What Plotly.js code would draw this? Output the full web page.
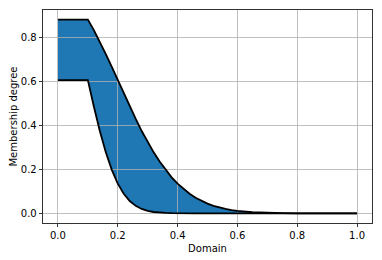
<!DOCTYPE html>
<html>
<head>
<meta charset="utf-8">
<script src="https://cdn.plot.ly/plotly-3.0.1.min.js"></script>
<style>html,body{margin:0;padding:0;background:#fff;}#chart{width:382px;height:260px;}</style>
</head>
<body>
<div id="chart"></div>
<script>
// Domain sample points
const domain = [0,0.02,0.04,0.06,0.08,0.10,0.12,0.14,0.16,0.18,0.20,0.22,0.24,0.26,0.28,0.30,
  0.32,0.34,0.36,0.38,0.40,0.42,0.44,0.46,0.48,0.50,0.52,0.54,0.56,0.58,0.60,0.65,0.70,0.75,0.80,0.90,1.00];
// Upper membership function
const upperMF = [0.883,0.883,0.883,0.883,0.883,0.883,0.835,0.783,0.726,0.667,0.607,0.546,0.487,0.430,0.375,0.325,
  0.278,0.236,0.198,0.164,0.135,0.110,0.089,0.071,0.056,0.044,0.034,0.026,0.020,0.015,0.011,0.005,0.002,0.001,0.000,0.000,0.000];
// Lower membership function
const lowerMF = [0.607,0.607,0.607,0.607,0.607,0.607,0.487,0.375,0.278,0.198,0.135,0.089,0.056,0.034,0.020,0.011,
  0.006,0.003,0.002,0.001,0.000,0.000,0.000,0.000,0.000,0.000,0.000,0.000,0.000,0.000,0.000,0.000,0.000,0.000,0.000,0.000,0.000];
const xTicks = [0.0,0.2,0.4,0.6,0.8,1.0];
const yTicks = [0.0,0.2,0.4,0.6,0.8];

const blue = '#1f77b4';
const traces = [
  {x: domain, y: lowerMF, mode:'lines', line:{color:'rgba(0,0,0,0)', width:0}, hoverinfo:'skip', showlegend:false, xaxis:'x', yaxis:'y'},
  {x: domain, y: upperMF, mode:'lines', fill:'tonexty', fillcolor: blue, line:{color:'rgba(0,0,0,0)', width:0}, hoverinfo:'skip', showlegend:false, xaxis:'x', yaxis:'y'},
  {x: domain, y: lowerMF, mode:'lines', line:{color:'#000', width:1.8}, showlegend:false, xaxis:'x2', yaxis:'y2'},
  {x: domain, y: upperMF, mode:'lines', line:{color:'#000', width:1.8}, showlegend:false, xaxis:'x2', yaxis:'y2'}
];
const font = {family:'DejaVu Sans, sans-serif', size:10, color:'#000'};
const xr = [-0.05, 1.05], yr = [-0.0441, 0.9266];
const layout = {
  width:382, height:260,
  margin:{l:43, r:10, t:10, b:37},
  paper_bgcolor:'#fff', plot_bgcolor:'rgba(0,0,0,0)',
  font: font, showlegend:false,
  xaxis:{domain:[0,1], range:xr, tickvals:xTicks, tickformat:'.1f', ticks:'outside', ticklen:3.5, tickwidth:0.8, tickcolor:'#000',
    showgrid:false, zeroline:false, showline:true, linecolor:'#000', linewidth:0.8, mirror:true,
    title:{text:'Domain', font:font, standoff:4}, tickfont:font},
  yaxis:{domain:[0,1], range:yr, tickvals:yTicks, tickformat:'.1f', ticks:'outside', ticklen:3.5, tickwidth:0.8, tickcolor:'#000',
    showgrid:false, zeroline:false, showline:true, linecolor:'#000', linewidth:0.8, mirror:true,
    title:{text:'Membership degree', font:font, standoff:1}, tickfont:font},
  xaxis2:{domain:[0,1], range:xr, anchor:'y2', tickvals:xTicks, showticklabels:false, ticks:'', showgrid:true, gridcolor:'#b0b0b0', gridwidth:0.8, zeroline:false, showline:false},
  yaxis2:{domain:[0,1], range:yr, anchor:'x2', tickvals:yTicks, showticklabels:false, ticks:'', showgrid:true, gridcolor:'#b0b0b0', gridwidth:0.8, zeroline:false, showline:false}
};
Plotly.newPlot('chart', traces, layout, {staticPlot:true, displayModeBar:false});
</script>
</body>
</html>
